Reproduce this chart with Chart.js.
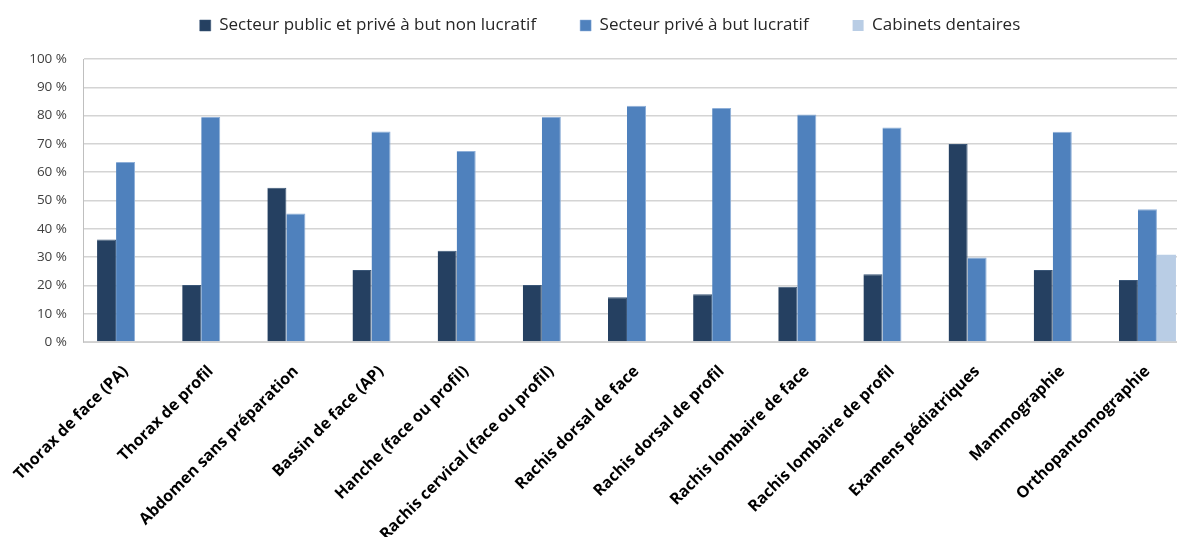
<!DOCTYPE html>
<html>
<head>
<meta charset="utf-8">
<script src="https://cdn.jsdelivr.net/npm/chart.js@4/dist/chart.umd.min.js"></script>
<style>
  html, body { margin: 0; padding: 0; background: #fff; overflow: hidden; }
  .graphMain { width: 1190px; height: 537px; }
</style>
</head>
<body>
<div class="graphMain">
  <canvas id="chart" width="1190" height="537"></canvas>
</div>
<script>
const categories = [
  'Thorax de face (PA)',
  'Thorax de profil',
  'Abdomen sans préparation',
  'Bassin de face (AP)',
  'Hanche (face ou profil)',
  'Rachis cervical (face ou profil)',
  'Rachis dorsal de face',
  'Rachis dorsal de profil',
  'Rachis lombaire de face',
  'Rachis lombaire de profil',
  'Examens pédiatriques',
  'Mammographie',
  'Orthopantomographie'
];

const publicNonLucratif = [36.2, 20.1, 54.5, 25.4, 32.2, 20.1, 15.8, 16.9, 19.5, 23.9, 70.0, 25.4, 21.9];
const priveLucratif = [63.6, 79.5, 45.4, 74.4, 67.5, 79.5, 83.5, 82.7, 80.4, 75.8, 29.9, 74.3, 46.9];
const cabinetsDentaires = [null, null, null, null, null, null, null, null, null, null, null, null, 30.8];

const yTicks = [0, 10, 20, 30, 40, 50, 60, 70, 80, 90, 100];

// legend keeps wide gaps between items, so adjust its height afterwards
const legendHeight = {
  id: 'legendHeight',
  beforeInit(chart) {
    const fit = chart.legend.fit;
    chart.legend.fit = function () {
      fit.call(this);
      this.height += 15;
    };
  },
};

const chart = new Chart(document.getElementById('chart'), {
  type: 'bar',
  data: {
    labels: categories,
    datasets: [
      {
        label: 'Secteur public et privé à but non lucratif',
        data: publicNonLucratif,
        backgroundColor: '#254061',
        borderColor: '#3a5677',
        borderWidth: { left: 0, right: 1, top: 1, bottom: 0 },
        barPercentage: 1,
        categoryPercentage: 0.67,
      },
      {
        label: 'Secteur privé à but lucratif',
        data: priveLucratif,
        backgroundColor: '#4f81bd',
        borderColor: '#8eafd8',
        borderWidth: { left: 0, right: 1, top: 1, bottom: 0 },
        barPercentage: 1,
        categoryPercentage: 0.67,
      },
      {
        label: 'Cabinets dentaires',
        data: cabinetsDentaires,
        backgroundColor: '#b9cde5',
        borderWidth: 0,
        barPercentage: 1,
        categoryPercentage: 0.67,
      },
    ],
  },
  plugins: [legendHeight],
  options: {
    responsive: false,
    animation: false,
    layout: { padding: { top: -27, right: 0, left: 30, bottom: 0 } },
    plugins: {
      tooltip: { enabled: false },
      legend: {
        position: 'top',
        labels: {
          boxWidth: 11,
          boxHeight: 11,
          padding: 44,
          color: '#262626',
          font: { family: 'Open Sans', size: 17 },
        },
      },
    },
    scales: {
      x: {
        grid: { display: false, drawTicks: false },
        border: { color: '#d0d0d0', width: 1 },
        afterFit: (scale) => {
          scale.height = 195;
          scale.paddingLeft = 0;
          scale.paddingRight = 0;
        },
        ticks: {
          minRotation: 45,
          maxRotation: 45,
          autoSkip: false,
          padding: 20,
          color: '#000',
          font: { family: 'Open Sans', size: 16, weight: 'bold' },
        },
      },
      y: {
        min: 0,
        max: 100,
        afterFit: (scale) => { scale.width = 53; },
        afterBuildTicks: (scale) => { scale.ticks = yTicks.map((v) => ({ value: v })); },
        grid: { color: '#d4d4d4', lineWidth: 1.5, drawTicks: false },
        border: { color: '#bfbfbf', width: 1 },
        ticks: {
          padding: 16,
          color: '#404040',
          font: { family: 'Open Sans', size: 13.5 },
          callback: (v) => v + ' %',
        },
      },
    },
  },
});
</script>
</body>
</html>
